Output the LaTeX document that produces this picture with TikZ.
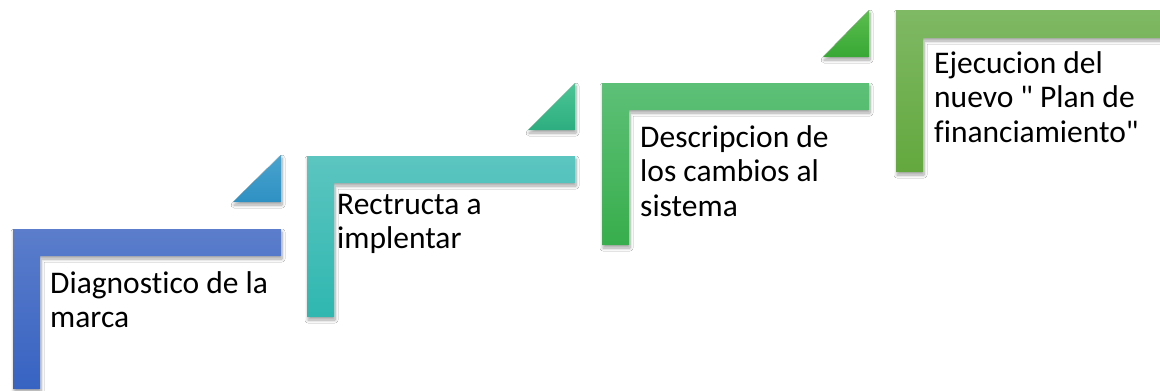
\documentclass[tikz,border=0pt]{standalone}
\usepackage{fontspec}
\newfontfamily\stepfont{Carlito}[Ligatures=NoCommon]
\usetikzlibrary{shadows.blur}
\definecolor{sOneT}{HTML}{5B7DCB}
\definecolor{sOneB}{HTML}{3763C2}
\definecolor{tOneT}{HTML}{4AA3CE}
\definecolor{tOneB}{HTML}{2E91C3}
\definecolor{sTwoT}{HTML}{5CC5C0}
\definecolor{sTwoB}{HTML}{2FB7B0}
\definecolor{tTwoT}{HTML}{4CC595}
\definecolor{tTwoB}{HTML}{2DAE80}
\definecolor{sThrT}{HTML}{5DC077}
\definecolor{sThrB}{HTML}{38AE4C}
\definecolor{tThrT}{HTML}{5BBD4E}
\definecolor{tThrB}{HTML}{38A835}
\definecolor{sFouT}{HTML}{7FB964}
\definecolor{sFouB}{HTML}{63A83E}
\tikzset{
  stepshape/.style={blur shadow={shadow xshift=1pt,shadow yshift=-3pt,shadow blur radius=3pt,shadow blur steps=8,shadow opacity=35}},
  steptext/.style={anchor=north west,inner sep=0pt,align=left,text=black,
    font=\stepfont\fontsize{31.5}{34.5}\selectfont},
}
\newcommand{\firststrut}{\rule{0pt}{24pt}}
\begin{document}
\begin{tikzpicture}[x=1pt,y=-1pt]
\useasboundingbox[fill=white] (0,0) rectangle (1160,391);
% step 1
\path[stepshape,top color=sOneT,bottom color=sOneB]
  (13,229) -- (281,229) -- (281,256) -- (40,256) -- (40,389) -- (13,389) -- cycle;
\path[stepshape,top color=tOneT,bottom color=tOneB]
  (233,202) -- (281,202) -- (281,155) -- cycle;
% step 2
\path[stepshape,top color=sTwoT,bottom color=sTwoB]
  (307,156) -- (575,156) -- (575,183) -- (334,183) -- (334,317) -- (307,317) -- cycle;
\path[stepshape,top color=tTwoT,bottom color=tTwoB]
  (528,130) -- (575,130) -- (575,83) -- cycle;
% step 3
\path[stepshape,top color=sThrT,bottom color=sThrB]
  (602,83) -- (869,83) -- (869,110) -- (629,110) -- (629,245) -- (602,245) -- cycle;
\path[stepshape,top color=tThrT,bottom color=tThrB]
  (823,57) -- (869,57) -- (869,10) -- cycle;
% step 4
\path[stepshape,top color=sFouT,bottom color=sFouB]
  (896,10) -- (1164,10) -- (1164,38) -- (923,38) -- (923,172) -- (896,172) -- cycle;
% texts
\node[steptext] (t1) at (50,269) {\firststrut Diagnostico de la\\marca};
\node[steptext] (t2) at (337,190) {\firststrut Rectructa a\\implentar};
\node[steptext] (t3) at (640,123) {\firststrut Descripcion de\\los cambios al\\sistema};
\node[steptext] (t4) at (934,49) {\firststrut Ejecucion del\\nuevo " Plan de\\financiamiento"};
\end{tikzpicture}
\end{document}
